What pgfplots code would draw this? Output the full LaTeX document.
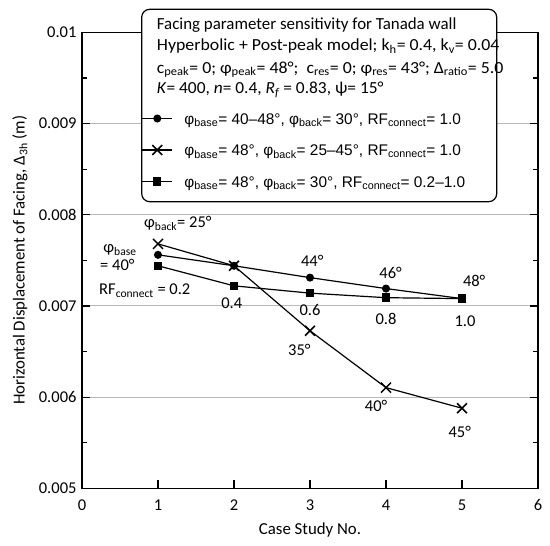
\documentclass[border=0pt]{standalone}
\usepackage{pgfplots}
\pgfplotsset{compat=1.18}
\usepackage{fontspec}
\setmainfont{Carlito}
\newfontfamily\arial{Liberation Sans}
\newcommand\ann{\fontsize{16.5bp}{20bp}\selectfont}
\newcommand\lab{\fontsize{16.8bp}{20bp}\selectfont}
\newcommand\hdr{\fontsize{16.9bp}{19bp}\selectfont}
\newcommand\leg{\arial\fontsize{15.4bp}{18bp}\selectfont}
\begin{document}
\begin{tikzpicture}
\begin{axis}[
  name=ax, at={(0,0)}, anchor=south west,
  scale only axis, width=456bp, height=456bp,
  xmin=0, xmax=6, ymin=0.005, ymax=0.01,
  xtick={0,1,2,3,4,5,6}, xticklabels={0,1,2,3,4,5,6},
  ytick={0.005,0.006,0.007,0.008,0.009,0.01},
  yticklabels={0.005,0.006,0.007,0.008,0.009,0.01},
  scaled y ticks=false,
  minor ytick={0.0055,0.0065,0.0075,0.0085,0.0095},
  xtick pos=bottom,
  tick align=inside,
  major tick length=8bp, minor tick length=5bp,
  ymajorgrids, grid style={draw=black!28, line width=0.9bp},
  axis line style={line width=1.2bp},
  tick style={line width=1.2bp, black},
  tick label style={font=\ann},
  xticklabel style={yshift=-8bp},
  yticklabel style={xshift=-2bp},
  label style={font=\lab},
  xlabel={Case Study No.},
  xlabel style={at={(axis description cs:0.5,-0.0914)}, anchor=center},
  ylabel={Horizontal Displacement of Facing, Δ\textsubscript{3h} (m)},
  ylabel style={at={(axis description cs:-0.136,0.5)}, anchor=center},
  clip=false,
]
\addplot[black, line width=1.2bp, mark=*, mark size=3.4bp]
  coordinates {(1,0.00756)(2,0.00744)(3,0.00731)(4,0.00719)(5,0.00708)};
\addplot[black, line width=1.2bp, mark=x, mark size=7bp, mark options={line width=1.5bp}]
  coordinates {(1,0.00768)(2,0.00744)(3,0.006727)(4,0.006104)(5,0.005878)};
\addplot[black, line width=1.2bp, mark=square*, mark size=3.6bp]
  coordinates {(1,0.00744)(2,0.00722)(3,0.00714)(4,0.00709)(5,0.00708)};

\node[font=\ann, anchor=base west, inner sep=0pt] at (axis cs:0.816,0.007859) {φ\textsubscript{back}= 25°};
\node[font=\ann, anchor=base west, inner sep=0pt] at (axis cs:0.280,0.007586) {φ\textsubscript{base}};
\node[font=\ann, anchor=base west, inner sep=0pt] at (axis cs:0.237,0.007393) {= 40°};
\node[font=\ann, anchor=base west, inner sep=0pt] at (axis cs:0.224,0.007123) {RF\textsubscript{connect} = 0.2};
\node[font=\ann] at (axis cs:1.97,0.00703) {0.4};
\node[font=\ann] at (axis cs:3.0,0.00696) {0.6};
\node[font=\ann] at (axis cs:4.0,0.006858) {0.8};
\node[font=\ann] at (axis cs:5.04,0.006832) {1.0};
\node[font=\ann] at (axis cs:3.03,0.007495) {44°};
\node[font=\ann] at (axis cs:4.06,0.007367) {46°};
\node[font=\ann] at (axis cs:5.16,0.007269) {48°};
\node[font=\ann] at (axis cs:2.86,0.006519) {35°};
\node[font=\ann] at (axis cs:3.87,0.0059) {40°};
\node[font=\ann] at (axis cs:4.97,0.005619) {45°};
\end{axis}

\draw[line width=1.2bp, fill=white, rounded corners=8bp] (59.7bp,286.6bp) rectangle (414.7bp,479bp);
\node[font=\hdr, anchor=base west, inner sep=0pt] at (74.7bp,459bp) {Facing parameter sensitivity for Tanada wall};
\node[font=\hdr, anchor=base west, inner sep=0pt] at (74.7bp,437.3bp) {\scalebox{1.055}[1]{Hyperbolic + Post-peak model; k\textsubscript{h}= 0.4, k\textsubscript{v}= 0.04}};
\node[font=\hdr, anchor=base west, inner sep=0pt] at (74.7bp,415bp) {\scalebox{1.055}[1]{c\textsubscript{peak}= 0; φ\textsubscript{peak}= 48°;\ \ c\textsubscript{res}= 0; φ\textsubscript{res}= 43°; Δ\textsubscript{ratio}= 5.0}};
\node[font=\hdr, anchor=base west, inner sep=0pt] at (74.7bp,394.5bp) {\scalebox{1.03}[1]{\textit{K}= 400, \textit{n}= 0.4, \textit{R\textsubscript{f}} = 0.83, ψ= 15°}};

\begin{axis}[
  at={(0,0)}, anchor=south west,
  scale only axis, width=456bp, height=456bp,
  hide axis, xmin=0, xmax=1, ymin=0, ymax=1,
  legend cell align=left,
  legend style={at={(0.1309,0.8274)}, anchor=north west, draw=none, fill=none,
    inner sep=0pt, outer sep=0pt, row sep=16.5bp, column sep=11.6bp,
    nodes={inner sep=0pt, text height=13bp, text depth=2bp, font=\leg}},
  legend image code/.code={\draw[mark repeat=2,mark phase=2] plot coordinates {(0bp,0bp)(15bp,0bp)(30bp,0bp)};},
]
\addlegendimage{black, line width=1.2bp, mark=*, mark size=3.4bp}
\addlegendentry{φ\textsubscript{base}= 40–48°, φ\textsubscript{back}= 30°, RF\textsubscript{connect}= 1.0}
\addlegendimage{black, line width=1.2bp, mark=x, mark size=7bp, mark options={line width=1.5bp}}
\addlegendentry{φ\textsubscript{base}= 48°, φ\textsubscript{back}= 25–45°, RF\textsubscript{connect}= 1.0}
\addlegendimage{black, line width=1.2bp, mark=square*, mark size=3.6bp}
\addlegendentry{φ\textsubscript{base}= 48°, φ\textsubscript{back}= 30°, RF\textsubscript{connect}= 0.2–1.0}
\end{axis}
\pgfresetboundingbox
\path (-82bp,-57.7bp) rectangle (468bp,488.3bp);
\end{tikzpicture}
\end{document}
